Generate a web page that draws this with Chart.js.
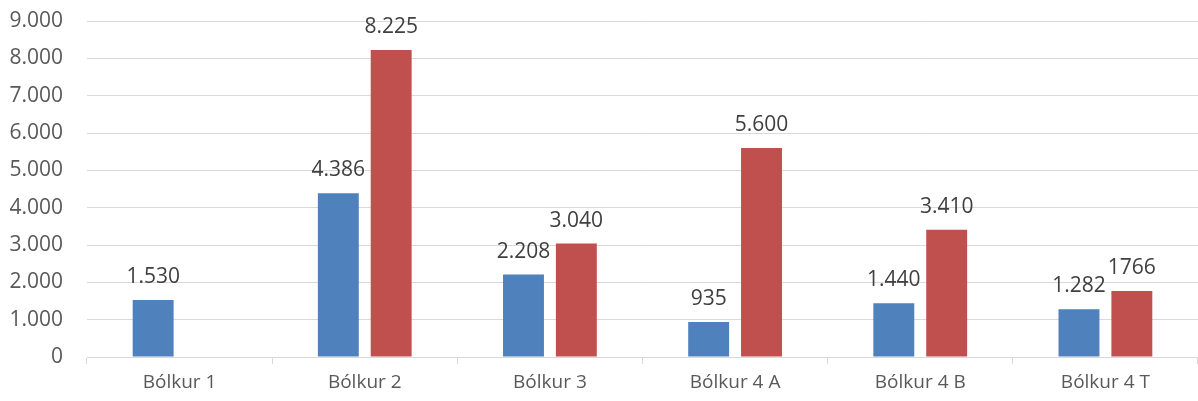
<!DOCTYPE html>
<html>
<head>
<meta charset="utf-8">
<script src="https://cdn.jsdelivr.net/npm/chart.js@4"></script>
<style>
  html, body { margin: 0; padding: 0; background: #fff; }
  #wrap { width: 1198px; height: 401px; position: relative; }
</style>
</head>
<body>
<div id="wrap"><canvas id="chart"></canvas></div>
<script>
const categories = ['Bólkur 1', 'Bólkur 2', 'Bólkur 3', 'Bólkur 4 A', 'Bólkur 4 B', 'Bólkur 4 T'];
const seriesA = [1530, 4386, 2208, 935, 1440, 1282];
const seriesB = [null, 8225, 3040, 5600, 3410, 1766];
const labelsA = ['1.530', '4.386', '2.208', '935', '1.440', '1.282'];
const labelsB = ['', '8.225', '3.040', '5.600', '3.410', '1766'];
const yTicks = [0, 1000, 2000, 3000, 4000, 5000, 6000, 7000, 8000, 9000];

const FONT = 'Open Sans';

// simple value labels above each bar
const barLabels = {
  id: 'barLabels',
  afterDatasetsDraw(chart) {
    const ctx = chart.ctx;
    ctx.save();
    ctx.font = '21px "' + FONT + '"';
    ctx.fillStyle = '#404040';
    ctx.textAlign = 'center';
    ctx.textBaseline = 'alphabetic';
    chart.data.datasets.forEach((ds, i) => {
      const meta = chart.getDatasetMeta(i);
      meta.data.forEach((bar, j) => {
        const txt = ds.valueLabels[j];
        if (!txt || ds.data[j] == null) return;
        ctx.fillText(txt, bar.x, bar.y - 17);
      });
    });
    ctx.restore();
  }
};

new Chart(document.getElementById('chart').getContext('2d'), {
  type: 'bar',
  data: {
    labels: categories,
    datasets: [{
      data: seriesA,
      valueLabels: labelsA,
      backgroundColor: '#4f81bd',
      barPercentage: 0.774,
      categoryPercentage: 0.571
    }, {
      data: seriesB,
      valueLabels: labelsB,
      backgroundColor: '#c0504d',
      barPercentage: 0.774,
      categoryPercentage: 0.571
    }]
  },
  options: {
    responsive: true,
    maintainAspectRatio: false,
    animation: false,
    layout: { padding: { top: 21, right: 0, bottom: 0, left: 0 } },
    plugins: {
      legend: { display: false },
      tooltip: { enabled: false }
    },
    scales: {
      x: {
        grid: {
          offset: true,
          drawOnChartArea: false,
          color: '#d9d9d9',
          tickLength: 7
        },
        border: { color: '#d9d9d9' },
        ticks: {
          color: '#595959',
          font: { family: FONT, size: 19 },
          padding: 7
        },
        afterFit(axis) {
          axis.height = 44;
          axis.paddingLeft = 0;
          axis.paddingRight = 0;
        }
      },
      y: {
        min: 0,
        max: 9000,
        afterBuildTicks(axis) { axis.ticks = yTicks.map(v => ({ value: v })); },
        grid: { color: '#d9d9d9', drawTicks: false },
        border: { display: false },
        ticks: {
          color: '#595959',
          font: { family: FONT, size: 21 },
          padding: 24,
          callback: v => v.toLocaleString('de-DE')
        },
        afterFit(axis) {
          axis.width = 87;
          axis.paddingTop = 0;
          axis.paddingBottom = 0;
        }
      }
    }
  },
  plugins: [barLabels]
});
</script>
</body>
</html>
